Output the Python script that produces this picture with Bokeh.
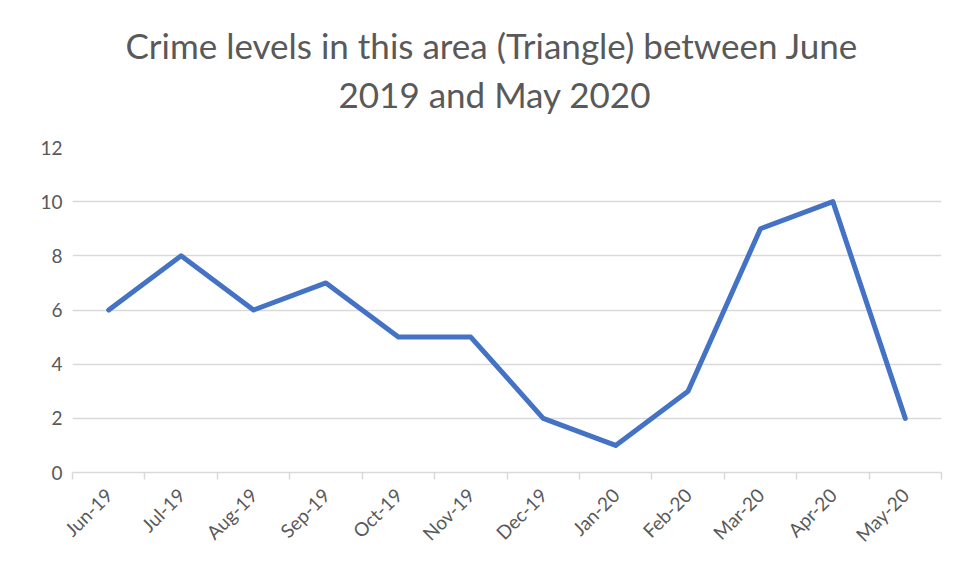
import math
from bokeh.plotting import figure
from bokeh.models import Range1d, FixedTicker, Title, ColumnDataSource
from bokeh.embed import file_html
from bokeh.resources import INLINE

months = ["Jun-19", "Jul-19", "Aug-19", "Sep-19", "Oct-19", "Nov-19",
          "Dec-19", "Jan-20", "Feb-20", "Mar-20", "Apr-20", "May-20"]
crimes = [6, 8, 6, 7, 5, 5, 2, 1, 3, 9, 10, 2]
y_ticks = [0, 2, 4, 6, 8, 10, 12]
title_lines = ["Crime levels in this area (Triangle) between June", "2019 and May 2020"]

xpos = [i + 0.5 for i in range(len(months))]
src = ColumnDataSource(dict(x=xpos, y=crimes, m=months))

FONT = "Lato"
GRAY = "#595959"
GRID = "#d9d9d9"

p = figure(width=944, height=557, output_backend="svg", toolbar_location=None,
           x_range=Range1d(0, len(months)), y_range=Range1d(0, 12),
           min_border_left=72, min_border_right=3, min_border_top=147,
           min_border_bottom=85)
p.outline_line_color = None

# spacer between plot and title
p.add_layout(Title(text=" ", text_font=FONT, text_font_size="10px",
                   standoff=14, text_color="white"), "above")
p.add_layout(Title(text=title_lines[1], align="left", text_font=FONT,
                   text_font_size="35px", text_font_style="normal",
                   text_color=GRAY, standoff=10, offset=266), "above")
p.add_layout(Title(text=title_lines[0], align="left", text_font=FONT,
                   text_font_size="35px", text_font_style="normal",
                   text_color=GRAY, standoff=0, offset=53), "above")

p.line("x", "y", source=src, line_color="#4472C4", line_width=5,
       line_join="round", line_cap="round")

# x axis
xt = FixedTicker(ticks=xpos, minor_ticks=list(range(len(months) + 1)))
p.xaxis.ticker = xt
p.xaxis.major_label_overrides = {x: m for x, m in zip(xpos, months)}
p.xaxis.major_label_orientation = math.pi / 4
p.xaxis.major_tick_out = 0
p.xaxis.major_tick_in = 0
p.xaxis.minor_tick_out = 7
p.xaxis.minor_tick_in = 0
p.xaxis.minor_tick_line_color = GRID
p.xaxis.minor_tick_line_width = 1.5
p.xaxis.axis_line_color = GRID
p.xaxis.axis_line_width = 1.5
p.xaxis.major_label_text_font = FONT
p.xaxis.major_label_text_font_size = "19px"
p.xaxis.major_label_text_color = GRAY
p.xaxis.major_label_standoff = 12
p.xgrid.grid_line_color = None

# y axis
p.yaxis.ticker = FixedTicker(ticks=y_ticks)
p.yaxis.axis_line_color = None
p.yaxis.major_tick_line_color = None
p.yaxis.major_tick_out = 0
p.yaxis.major_tick_in = 0
p.yaxis.minor_tick_line_color = None
p.yaxis.major_label_text_font = FONT
p.yaxis.major_label_text_font_size = "19px"
p.yaxis.major_label_text_color = GRAY
p.yaxis.major_label_standoff = 10
p.ygrid.grid_line_color = GRID
p.ygrid.grid_line_width = 1.5

open("out.html", "w").write(file_html(p, INLINE))
